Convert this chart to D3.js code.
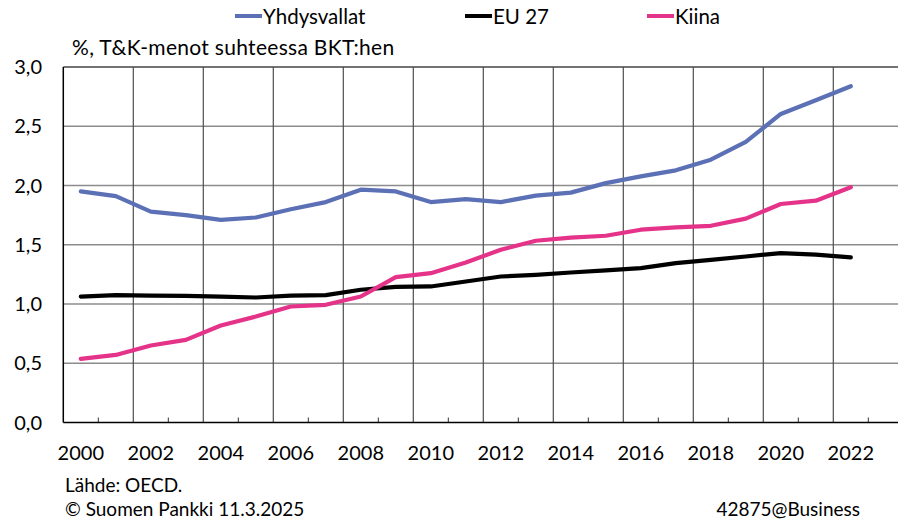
<!DOCTYPE html>
<html><head><meta charset="utf-8">
<script src="https://cdn.jsdelivr.net/npm/d3@7"></script>
<style>body{margin:0;background:#fff}svg{display:block;font-family:Lato, "Open Sans", sans-serif}</style>
</head><body><svg id="c" width="898" height="523"></svg>
<script>
const years = d3.range(2000, 2024);
const dataYears = d3.range(2000, 2023);
const usa = [1.95,1.91,1.78,1.75,1.71,1.73,1.80,1.86,1.965,1.95,1.86,1.885,1.86,1.915,1.94,2.02,2.077,2.128,2.218,2.368,2.604,2.72,2.838];
const eu27 = [1.063,1.075,1.07,1.068,1.063,1.055,1.07,1.075,1.12,1.145,1.148,1.19,1.232,1.246,1.266,1.283,1.303,1.345,1.373,1.401,1.43,1.416,1.393];
const china = [0.537,0.57,0.65,0.697,0.818,0.894,0.979,0.993,1.063,1.227,1.26,1.35,1.458,1.534,1.56,1.576,1.627,1.646,1.66,1.72,1.844,1.872,1.985];
const yTicks = [0,0.5,1,1.5,2,2.5,3];
const xLabels = d3.range(2000, 2023, 2);
const seriesNames = ["Yhdysvallat","EU 27","Kiina"];
const colors = ["#5b70b5","#000000","#e5338a"];

const svg = d3.select("#c");
const L = 63.3, R = 903.3, T = 67, B = 422.5;
const x = d3.scaleBand().domain(years).range([L, R]);
const y = d3.scaleLinear().domain([0,3]).range([B, T]);

svg.append("g").selectAll("line").data(yTicks.filter(v=>v>0 && v<3)).join("line")
  .attr("x1", L).attr("x2", 898).attr("y1", d=>y(d)).attr("y2", d=>y(d))
  .attr("stroke", "#8c8c8c").attr("stroke-width", 1.5);
svg.append("g").selectAll("line").data(years.filter(v=>v%2===0 && v>2000)).join("line")
  .attr("x1", d=>x(d)).attr("x2", d=>x(d)).attr("y1", T).attr("y2", B)
  .attr("stroke", "#4d4d4d").attr("stroke-width", 1.2);
svg.append("line").attr("x1", L).attr("x2", 898).attr("y1", T).attr("y2", T)
  .attr("stroke", "#444").attr("stroke-width", 1.5);
svg.append("g").selectAll("line").data(years.filter(v=>v%2===1)).join("line")
  .attr("x1", d=>x(d)).attr("x2", d=>x(d)).attr("y1", B-5).attr("y2", B)
  .attr("stroke", "#333").attr("stroke-width", 1);
svg.append("line").attr("x1", L).attr("x2", L).attr("y1", T).attr("y2", B).attr("stroke", "#000").attr("stroke-width", 1.5);
svg.append("line").attr("x1", L).attr("x2", 898).attr("y1", B).attr("y2", B).attr("stroke", "#000").attr("stroke-width", 1.5);

svg.append("g").selectAll("text").data(yTicks).join("text")
  .attr("x", 42).attr("y", d=>y(d)).attr("dy", "0.36em").attr("text-anchor", "end")
  .attr("font-size", 20).attr("fill", "#000").text(d=>d3.format(".1f")(d).replace(".", ","));
svg.append("g").selectAll("text").data(xLabels).join("text")
  .attr("x", d=>x(d)+x.bandwidth()/2).attr("y", 460).attr("text-anchor", "middle")
  .attr("font-size", 20).attr("fill", "#000").text(d=>d);

const line = d3.line().x((d,i)=>x(dataYears[i])+x.bandwidth()/2).y(d=>y(d));
[usa, eu27, china].forEach((s,i)=>{
  svg.append("path").datum(s).attr("d", line).attr("fill","none")
    .attr("stroke", colors[i]).attr("stroke-width", 4.2).attr("stroke-linejoin","round").attr("stroke-linecap","round");
});

svg.append("text").attr("x", 72).attr("y", 55).attr("font-size", 21).attr("letter-spacing", 0.3).attr("fill","#000")
  .text("%, T&K-menot suhteessa BKT:hen");

const legX = [235, 465, 647];
seriesNames.forEach((n,i)=>{
  svg.append("line").attr("x1", legX[i]).attr("x2", legX[i]+27).attr("y1", 16).attr("y2", 16)
    .attr("stroke", colors[i]).attr("stroke-width", 4);
  svg.append("text").attr("x", legX[i]+28).attr("y", 23.5).attr("font-size", 20.5).attr("fill","#000").text(n);
});

svg.append("text").attr("x", 65).attr("y", 492).attr("font-size", 19).attr("fill","#000").text("Lähde: OECD.");
svg.append("text").attr("x", 65).attr("y", 516).attr("font-size", 19).attr("fill","#000").text("© Suomen Pankki 11.3.2025");
svg.append("text").attr("x", 860).attr("y", 516).attr("text-anchor","end").attr("font-size", 19).attr("fill","#000").text("42875@Business");
</script></body></html>
